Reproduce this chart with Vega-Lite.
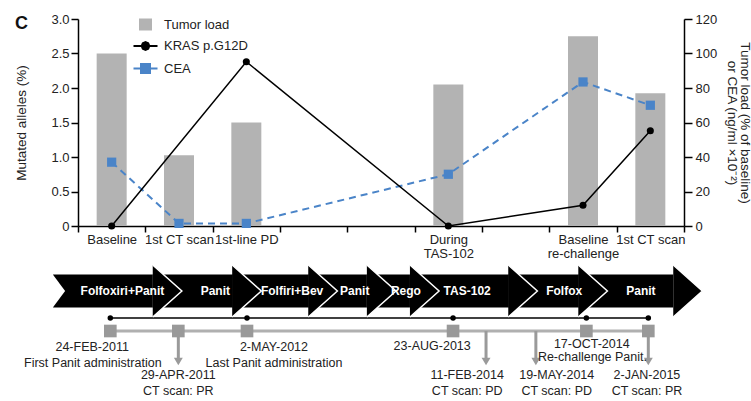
{
  "$schema": "https://vega.github.io/schema/vega-lite/v6.json",
  "padding": {"left": 14, "top": 13, "right": 0, "bottom": 0},
  "bounds": "flush",
  "spacing": 36,
  "title": {"text": "C", "anchor": "start", "frame": "bounds", "fontSize": 18, "fontWeight": "bold", "font": "Liberation Sans", "color": "#111", "offset": 0, "dy": 20},
  "datasets": {
    "measures": [
      {"slot": "Baseline", "series": "Tumor load", "value": 100},
      {"slot": "1st CT scan", "series": "Tumor load", "value": 41},
      {"slot": "1st-line PD", "series": "Tumor load", "value": 60},
      {"slot": "During TAS-102", "series": "Tumor load", "value": 82},
      {"slot": "Baseline re-challenge", "series": "Tumor load", "value": 110},
      {"slot": "1st CT scan re-challenge", "series": "Tumor load", "value": 77},
      {"slot": "Baseline", "series": "KRAS p.G12D", "value": 0},
      {"slot": "1st-line PD", "series": "KRAS p.G12D", "value": 2.38},
      {"slot": "During TAS-102", "series": "KRAS p.G12D", "value": 0},
      {"slot": "Baseline re-challenge", "series": "KRAS p.G12D", "value": 0.3},
      {"slot": "1st CT scan re-challenge", "series": "KRAS p.G12D", "value": 1.38},
      {"slot": "Baseline", "series": "CEA", "value": 37},
      {"slot": "1st CT scan", "series": "CEA", "value": 1.5},
      {"slot": "1st-line PD", "series": "CEA", "value": 1.5},
      {"slot": "During TAS-102", "series": "CEA", "value": 30},
      {"slot": "Baseline re-challenge", "series": "CEA", "value": 83.5},
      {"slot": "1st CT scan re-challenge", "series": "CEA", "value": 70}
    ],
    "therapies": [
      {"line": 1, "therapy": "Folfoxiri+Panit", "start": -0.37, "end": 1.11, "labelAt": 0.66},
      {"line": 2, "therapy": "Panit", "start": 1.11, "end": 2.29, "labelAt": 2.04},
      {"line": 3, "therapy": "Folfiri+Bev", "start": 2.29, "end": 3.42, "labelAt": 3.18},
      {"line": 4, "therapy": "Panit", "start": 3.42, "end": 4.29, "labelAt": 4.11},
      {"line": 5, "therapy": "Rego", "start": 4.29, "end": 4.93, "labelAt": 4.87},
      {"line": 6, "therapy": "TAS-102", "start": 4.93, "end": 6.39, "labelAt": 5.78},
      {"line": 7, "therapy": "Folfox", "start": 6.39, "end": 7.43, "labelAt": 7.22},
      {"line": 8, "therapy": "Panit", "start": 7.43, "end": 8.84, "labelAt": 8.36}
    ],
    "visits": [
      {"date": "24-FEB-2011", "pos": 0.48, "sampled": true},
      {"date": "29-APR-2011", "pos": 1.49, "sampled": false},
      {"date": "2-MAY-2012", "pos": 2.51, "sampled": true},
      {"date": "23-AUG-2013", "pos": 5.57, "sampled": true},
      {"date": "17-OCT-2014", "pos": 7.55, "sampled": true},
      {"date": "2-JAN-2015", "pos": 8.47, "sampled": true}
    ],
    "scans": [
      {"date": "29-APR-2011", "pos": 1.49, "result": "PR"},
      {"date": "11-FEB-2014", "pos": 6.06, "result": "PD"},
      {"date": "19-MAY-2014", "pos": 6.8, "result": "PD"},
      {"date": "2-JAN-2015", "pos": 8.47, "result": "PR"}
    ],
    "notes": [
      {"text": "24-FEB-2011", "pos": 0.21, "level": 8.5},
      {"text": "First Panit administration", "pos": 0.22, "level": 10.1},
      {"text": "29-APR-2011", "pos": 1.49, "level": 11.3},
      {"text": "CT scan: PR", "pos": 1.49, "level": 12.9},
      {"text": "2-MAY-2012", "pos": 2.91, "level": 8.5},
      {"text": "Last Panit administration", "pos": 2.91, "level": 10.1},
      {"text": "23-AUG-2013", "pos": 5.26, "level": 8.4},
      {"text": "11-FEB-2014", "pos": 5.78, "level": 11.3},
      {"text": "CT scan: PD", "pos": 5.78, "level": 12.9},
      {"text": "19-MAY-2014", "pos": 7.11, "level": 11.3},
      {"text": "CT scan: PD", "pos": 7.11, "level": 12.9},
      {"text": "17-OCT-2014", "pos": 7.63, "level": 8.15},
      {"text": "Re-challenge Panit.", "pos": 7.64, "level": 9.45},
      {"text": "2-JAN-2015", "pos": 8.45, "level": 11.3},
      {"text": "CT scan: PR", "pos": 8.45, "level": 12.9}
    ]
  },
  "vconcat": [
    {
      "width": 606,
      "height": 207,
      "data": {"name": "measures"},
      "encoding": {
        "x": {
          "field": "slot",
          "type": "nominal",
          "title": null,
          "scale": {
            "domain": ["Baseline", "1st CT scan", "1st-line PD", "gap A", "gap B", "During TAS-102", "gap C", "Baseline re-challenge", "1st CT scan re-challenge"],
            "paddingInner": 0,
            "paddingOuter": 0
          },
          "axis": {
            "labelAngle": 0,
            "tickBand": "extent",
            "tickSize": 6,
            "labelPadding": 1,
            "labelLineHeight": 14.5,
            "labelExpr": "datum.value == 'During TAS-102' ? ['During', 'TAS-102'] : datum.value == 'Baseline re-challenge' ? ['Baseline', 're-challenge'] : datum.value == '1st CT scan re-challenge' ? '1st CT scan' : (datum.value == 'gap A' || datum.value == 'gap B' || datum.value == 'gap C') ? '' : datum.label"
          }
        }
      },
      "layer": [
        {
          "layer": [
            {
              "transform": [{"filter": "datum.series == 'Tumor load'"}],
              "mark": {"type": "bar", "size": 30},
              "encoding": {
                "y": {
                  "field": "value",
                  "type": "quantitative",
                  "scale": {"domain": [0, 120], "nice": false},
                  "axis": {
                    "orient": "right",
                    "values": [0, 20, 40, 60, 80, 100, 120],
                    "labelOverlap": false,
                    "title": ["Tumor load (% of baseline)", "or CEA (ng/ml \u00d710\u207b\u00b2)"],
                    "tickSize": 8,
                    "labelPadding": 3,
                    "titlePadding": 8,
                    "titleLineHeight": 13
                  }
                },
                "color": {
                  "field": "series",
                  "type": "nominal",
                  "scale": {"domain": ["Tumor load", "KRAS p.G12D", "CEA"], "range": ["#b3b3b3", "#000000", "#4a84c8"]},
                  "legend": {
                    "title": null,
                    "orient": "none",
                    "legendX": 61,
                    "legendY": -1,
                    "symbolSize": 400,
                    "labelFontSize": 13,
                    "labelColor": "#222",
                    "labelOffset": 12,
                    "rowPadding": 5.5,
                    "encode": {
                      "symbols": {
                        "update": {
                          "shape": {"signal": "datum.value === 'Tumor load' ? 'M-0.65,-0.6L0.65,-0.6L0.65,0.6L-0.65,0.6Z' : datum.value === 'CEA' ? 'M-1.2,0L-0.5,0M0.5,0L1.2,0M-0.45,-0.45L0.45,-0.45L0.45,0.45L-0.45,0.45Z' : 'M-1.2,0L1.2,0M-0.38,0L-0.27,-0.27L0,-0.38L0.27,-0.27L0.38,0L0.27,0.27L0,0.38L-0.27,0.27Z'"},
                          "fill": {"signal": "datum.value === 'Tumor load' ? '#b3b3b3' : datum.value === 'CEA' ? '#4a84c8' : '#000000'"},
                          "stroke": {"signal": "datum.value === 'Tumor load' ? '#b3b3b3' : datum.value === 'CEA' ? '#4a84c8' : '#000000'"},
                          "strokeWidth": {"signal": "datum.value === 'Tumor load' ? 0 : 2"},
                          "opacity": {"value": 1}
                        }
                      }
                    }
                  }
                }
              }
            },
            {
              "transform": [{"filter": "datum.series == 'CEA'"}],
              "mark": {"type": "line", "strokeDash": [7, 5], "strokeWidth": 2},
              "encoding": {
                "y": {"field": "value", "type": "quantitative", "axis": {"orient": "right", "values": [0, 20, 40, 60, 80, 100, 120], "labelOverlap": false}},
                "color": {"field": "series", "type": "nominal"}
              }
            },
            {
              "transform": [{"filter": "datum.series == 'CEA'"}],
              "mark": {"type": "point", "shape": "square", "filled": true, "opacity": 1, "size": 85},
              "encoding": {
                "y": {"field": "value", "type": "quantitative", "axis": {"orient": "right", "values": [0, 20, 40, 60, 80, 100, 120], "labelOverlap": false}},
                "color": {"field": "series", "type": "nominal"}
              }
            }
          ]
        },
        {
          "layer": [
            {
              "transform": [{"filter": "datum.series == 'KRAS p.G12D'"}],
              "mark": {"type": "line", "strokeWidth": 1.5},
              "encoding": {
                "y": {
                  "field": "value",
                  "type": "quantitative",
                  "scale": {"domain": [0, 3], "nice": false},
                  "axis": {
                    "orient": "left",
                    "values": [0, 0.5, 1, 1.5, 2, 2.5, 3],
                    "labelOverlap": false,
                    "labelExpr": "datum.value == 0 ? '0' : datum.label",
                    "format": ".1f",
                    "title": "Mutated alleles (%)",
                    "tickSize": 7,
                    "labelPadding": 2,
                    "titlePadding": 22
                  }
                },
                "color": {"field": "series", "type": "nominal"}
              }
            },
            {
              "transform": [{"filter": "datum.series == 'KRAS p.G12D'"}],
              "mark": {"type": "point", "shape": "circle", "filled": true, "opacity": 1, "size": 50},
              "encoding": {
                "y": {"field": "value", "type": "quantitative", "axis": {"orient": "left", "values": [0, 0.5, 1, 1.5, 2, 2.5, 3], "labelOverlap": false}},
                "color": {"field": "series", "type": "nominal"}
              }
            }
          ]
        }
      ],
      "resolve": {"scale": {"y": "independent"}}
    },
    {
      "width": 606,
      "height": 130,
      "layer": [
        {
          "data": {"name": "visits"},
          "mark": {"type": "line", "color": "#b0b0b0", "strokeWidth": 3},
          "encoding": {
            "x": {"field": "pos", "type": "quantitative", "scale": {"domain": [0, 9], "nice": false, "zero": false, "padding": 0}, "axis": null},
            "y": {"datum": 6.9, "type": "quantitative", "scale": {"domain": [0, 13], "reverse": true, "nice": false, "zero": false, "padding": 0}, "axis": null}
          }
        },
        {
          "data": {"name": "visits"},
          "transform": [{"filter": "datum.sampled"}],
          "mark": {"type": "line", "color": "#000000", "strokeWidth": 1.5},
          "encoding": {
            "x": {"field": "pos", "type": "quantitative", "axis": null},
            "y": {"datum": 5.6, "type": "quantitative", "axis": null}
          }
        },
        {
          "data": {"name": "visits"},
          "transform": [{"filter": "datum.sampled"}],
          "mark": {"type": "point", "shape": "circle", "filled": true, "opacity": 1, "color": "#000000", "size": 30},
          "encoding": {
            "x": {"field": "pos", "type": "quantitative", "axis": null},
            "y": {"datum": 5.6, "type": "quantitative", "axis": null}
          }
        },
        {
          "data": {"name": "scans"},
          "mark": {"type": "rule", "color": "#9a9a9a", "strokeWidth": 3},
          "encoding": {
            "x": {"field": "pos", "type": "quantitative", "axis": null},
            "y": {"datum": 6.9, "type": "quantitative", "axis": null},
            "y2": {"datum": 9.8}
          }
        },
        {
          "data": {"name": "scans"},
          "mark": {"type": "point", "shape": "triangle-down", "filled": true, "opacity": 1, "color": "#9a9a9a", "size": 80},
          "encoding": {
            "x": {"field": "pos", "type": "quantitative", "axis": null},
            "y": {"datum": 9.95, "type": "quantitative", "axis": null}
          }
        },
        {
          "data": {"name": "visits"},
          "mark": {"type": "square", "color": "#999999", "opacity": 1, "size": 160},
          "encoding": {
            "x": {"field": "pos", "type": "quantitative", "axis": null},
            "y": {"datum": 6.9, "type": "quantitative", "axis": null}
          }
        },
        {
          "data": {"name": "therapies"},
          "mark": {"type": "bar", "orient": "horizontal", "size": 33, "color": "#000000"},
          "encoding": {
            "x": {"field": "start", "type": "quantitative", "axis": null},
            "x2": {"field": "end"},
            "y": {"datum": 2.9, "type": "quantitative", "axis": null}
          }
        },
        {
          "data": {"name": "therapies"},
          "transform": [{"filter": "datum.line == 1"}],
          "mark": {"type": "point", "shape": "M-0.05,-1.05L0.73,0L-0.05,1.05Z", "filled": true, "opacity": 1, "color": "#ffffff", "strokeWidth": 0, "size": 1089},
          "encoding": {
            "x": {"field": "start", "type": "quantitative", "axis": null},
            "y": {"datum": 2.9, "type": "quantitative", "axis": null}
          }
        },
        {
          "data": {"name": "therapies"},
          "mark": {"type": "point", "shape": "M0,-1L1.12,0L0,1", "filled": true, "fill": "#000000", "stroke": "#ffffff", "strokeWidth": 1.5, "opacity": 1, "size": 2704},
          "encoding": {
            "x": {"field": "end", "type": "quantitative", "axis": null},
            "y": {"datum": 2.9, "type": "quantitative", "axis": null}
          }
        },
        {
          "data": {"name": "therapies"},
          "mark": {"type": "text", "color": "#ffffff", "fontWeight": "bold", "fontSize": 12},
          "encoding": {
            "x": {"field": "labelAt", "type": "quantitative", "axis": null},
            "y": {"datum": 2.9, "type": "quantitative", "axis": null},
            "text": {"field": "therapy"}
          }
        },
        {
          "data": {"name": "notes"},
          "mark": {"type": "text", "color": "#222222", "fontSize": 12.5},
          "encoding": {
            "x": {"field": "pos", "type": "quantitative", "axis": null},
            "y": {"field": "level", "type": "quantitative", "axis": null},
            "text": {"field": "text"}
          }
        }
      ]
    }
  ],
  "config": {
    "font": "Liberation Sans",
    "view": {"stroke": null},
    "axis": {
      "labelFontSize": 13,
      "labelColor": "#222222",
      "labelOverlap": false,
      "titleFontSize": 13.5,
      "titleFontWeight": "normal",
      "titleColor": "#222222",
      "domainColor": "#000000",
      "domainWidth": 1.5,
      "tickColor": "#000000",
      "tickWidth": 1.5,
      "grid": false
    }
  }
}
